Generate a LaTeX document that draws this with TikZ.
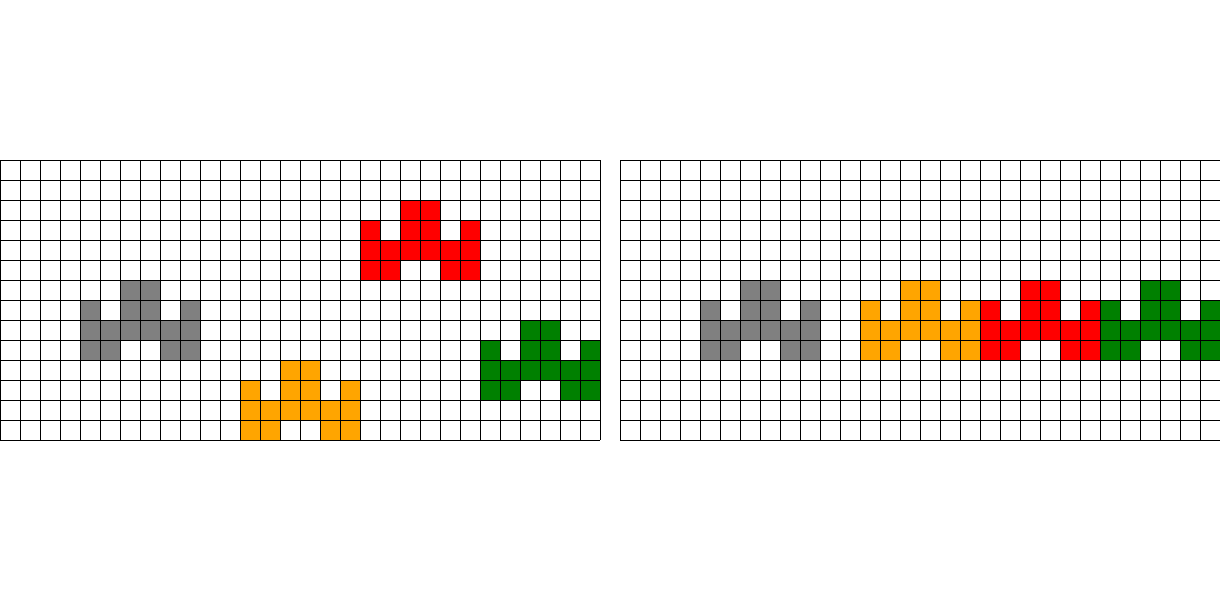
\documentclass[tikz,border=0pt]{standalone}
\definecolor{cgray}{RGB}{128,128,128}
\definecolor{corange}{RGB}{255,165,0}
\definecolor{cred}{RGB}{255,0,0}
\definecolor{cgreen}{RGB}{0,128,0}
\newcommand\blockshape[3]{%
  \foreach \dx/\dy in {2/0,3/0,0/1,2/1,3/1,5/1,0/2,1/2,2/2,3/2,4/2,5/2,0/3,1/3,4/3,5/3}
    \fill[#3] ({#1+\dx},{#2+\dy}) rectangle ++(1,1);%
}
\newcommand\gridat[1]{%
  \foreach \i in {0,...,30} \draw[gridline] ({#1+\i},8) -- ({#1+\i},22);
  \foreach \j in {8,...,22} \draw[gridline] (#1,\j) -- ({#1+30},\j);%
}
\begin{document}
\begin{tikzpicture}[x=0.5cm,y=-0.5cm,gridline/.style={black,line width=0.7pt}]
\useasboundingbox (0,0) rectangle (61,30);
% left grid
\blockshape{4}{14}{cgray}
\blockshape{12}{18}{corange}
\blockshape{18}{10}{cred}
\blockshape{24}{16}{cgreen}
\gridat{0}
% right grid
\blockshape{35}{14}{cgray}
\blockshape{43}{14}{corange}
\blockshape{49}{14}{cred}
\blockshape{55}{14}{cgreen}
\gridat{31}
\end{tikzpicture}
\end{document}
